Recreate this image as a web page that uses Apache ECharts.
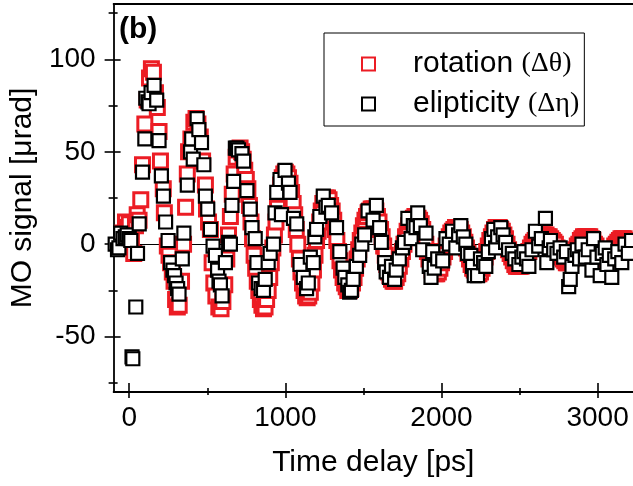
<!DOCTYPE html>
<html>
<head>
<meta charset="utf-8">
<script src="https://cdn.jsdelivr.net/npm/echarts@6.0.0/dist/echarts.min.js"></script>
<style>
  html, body { margin: 0; padding: 0; background: #fff; }
  #chart { width: 633px; height: 486px; }
</style>
</head>
<body>
<div id="chart"></div>
<script>
// tick positions
var xMajor = [0, 1000, 2000, 3000]
var xMinor = [500, 1500, 2500]
var yMajor = [-50, 0, 50, 100]
var yMinor = [-75, -25, 25, 75, 125]

// rotation (delta theta) [time ps, signal urad]
var rotation = [
  [-40,6],[-24,12],[-10,9],[0,11],[14,4],[29,-5],[40,10],[51,16],[63,13],[74,24],
  [85,43],[100,65],[115,78],[130,90],[142,95],[155,93],[168,82],[180,74],[191,61],[200,45],
  [218,30],[225,17],[244,-1],[255,-6],[265,-10],[276,-15],[287,-20],[297,-30],[308,-34],[320,-33],
  [335,-20],[348,0],[361,20],[372,38],[380,50],[395,57],[414,66],[428,68],[440,65],[455,58],
  [470,45],[488,32],[495,19],[508,12],[520,8],[531,-10],[542,-21],[555,-28],[574,-34],[588,-35],
  [600,-31],[612,-22],[625,-8],[636,5],[648,15],[660,27],[672,38],[685,47],[698,51],[710,52],
  [720,50],[730,46],[740,40],[750,35],[760,30],[770,21],[780,12],[790,3],[800,-6],[810,-13],
  [820,-20],[830,-25],[840,-30],[850,-33],[860,-35],[870,-34],[880,-30],[890,-25],[900,-18],[910,-10],
  [920,-2],[930,5],[940,12],[950,20],[960,27],[970,32],[980,36],[990,38],[1000,39],[1010,38],
  [1020,36],[1030,33],[1040,28],[1050,22],[1060,16],[1070,8],[1080,0],[1090,-8],[1100,-15],[1110,-21],
  [1120,-25],[1130,-28],[1140,-29],[1150,-28],[1160,-26],[1170,-21],[1180,-14],[1190,-6],[1200,2],[1210,7],
  [1220,12],[1230,18],[1240,22],[1250,24],[1260,25],[1270,25],[1280,24],[1290,21],[1300,18],[1310,13],
  [1320,8],[1330,2],[1340,-4],[1350,-9],[1360,-14],[1370,-18],[1380,-21],[1390,-23],[1400,-25],[1410,-25],
  [1420,-24],[1430,-21],[1440,-18],[1450,-13],[1460,-8],[1470,-3],[1480,2],[1490,6],[1500,10],[1510,13],
  [1520,15],[1530,17],[1540,18],[1550,19],[1560,19],[1570,19],[1580,18],[1590,15],[1600,12],[1610,8],
  [1620,4],[1630,-1],[1640,-6],[1650,-11],[1660,-15],[1670,-17],[1680,-19],[1690,-20],[1700,-20],[1710,-18],
  [1720,-16],[1730,-12],[1740,-8],[1750,-4],[1760,0],[1770,4],[1780,7],[1790,10],[1800,12],[1810,13],
  [1820,14],[1830,15],[1840,14],[1850,14],[1860,13],[1870,11],[1880,8],[1890,4],[1900,0],[1910,-4],
  [1920,-8],[1930,-11],[1940,-14],[1950,-15],[1960,-16],[1970,-16],[1980,-15],[1990,-13],[2000,-10],[2010,-7],
  [2020,-4],[2030,-1],[2040,2],[2050,4],[2060,6],[2070,7],[2080,8],[2090,9],[2100,9],[2110,9],
  [2120,8],[2130,6],[2140,4],[2150,1],[2160,-2],[2170,-5],[2180,-8],[2190,-11],[2200,-13],[2210,-14],
  [2220,-15],[2230,-16],[2240,-16],[2250,-15],[2260,-13],[2270,-10],[2280,-7],[2290,-4],[2300,-1],[2310,2],
  [2320,4],[2330,6],[2340,8],[2350,9],[2360,9],[2370,9],[2380,8],[2390,7],[2400,5],[2410,3],
  [2420,0],[2430,-3],[2440,-5],[2450,-7],[2460,-9],[2470,-11],[2480,-12],[2490,-12],[2500,-12],[2510,-12],
  [2520,-11],[2530,-10],[2540,-8],[2550,-6],[2560,-4],[2570,-2],[2580,0],[2590,1],[2600,2],[2610,3],
  [2620,4],[2630,5],[2640,5],[2650,5],[2660,5],[2670,5],[2680,4],[2690,4],[2700,3],[2710,2],
  [2720,1],[2730,0],[2740,-2],[2750,-4],[2760,-6],[2770,-7],[2780,-8],[2790,-9],[2800,-10],[2810,-10],
  [2820,-9],[2830,-8],[2840,-7],[2850,-5],[2860,-3],[2870,-1],[2880,0],[2890,2],[2900,3],[2910,4],
  [2920,4],[2930,4],[2940,4],[2950,4],[2960,3],[2970,2],[2980,0],[2990,-1],[3000,-3],[3010,-5],
  [3020,-6],[3030,-7],[3040,-8],[3050,-8],[3060,-8],[3070,-7],[3080,-6],[3090,-5],[3100,-3],[3110,-1],
  [3120,0],[3130,1],[3140,2],[3150,3],[3160,3],[3170,3],[3180,2],[3190,1],[3200,0],[3210,-1],
  [3220,-2]
]

// elipticity (delta eta) [time ps, signal urad]
var elipticity = [
  [-90,0],[-75,-3],[-66,-2],[-55,6],[-40,3],[-25,4],[-13,5],[0,3],[10,2],[18,-61],
  [23,-62],[42,-34],[53,-5],[64,11],[85,39],[100,57],[106,79],[120,77],[127,76],[140,82],
  [159,86],[176,78],[191,56],[206,37],[219,26],[233,12],[249,2],[265,-10],[280,-14],[290,-17],
  [300,-21],[310,-24],[319,-27],[340,-8],[350,6],[372,32],[393,50],[400,57],[410,46],[435,68],
  [446,62],[463,55],[478,43],[488,26],[503,19],[520,8],[537,-1],[552,-6],[566,-14],[575,-20],
  [584,-22],[595,-28],[616,-10],[637,1],[648,0],[658,21],[669,34],[680,52],[690,52],[700,51],
  [722,49],[733,45],[754,29],[775,19],[786,9],[807,3],[818,-10],[829,-21],[845,-24],[860,-25],
  [871,-19],[890,-10],[903,-5],[924,0],[934,17],[945,28],[966,35],[975,16],[998,40],[1020,33],
  [1030,28],[1052,14],[1073,11],[1094,-11],[1115,-18],[1136,-24],[1147,-21],[1160,-7],[1179,-10],[1189,4],
  [1200,8],[1221,15],[1243,26],[1260,20],[1275,21],[1296,17],[1328,9],[1349,-4],[1370,-13],[1381,-18],
  [1400,-22],[1412,-26],[1423,-25],[1434,-19],[1455,-12],[1476,-6],[1490,0],[1508,5],[1530,18],[1562,13],
  [1583,21],[1604,9],[1615,1],[1636,-10],[1646,-15],[1667,-18],[1680,-12],[1700,-19],[1710,-14],[1730,-8],
  [1750,-2],[1763,1],[1785,14],[1806,3],[1820,10],[1837,9],[1848,17],[1865,10],[1880,-3],[1901,6],
  [1922,-12],[1933,-18],[1944,-4],[1954,-13],[1976,-8],[2008,-9],[2029,3],[2050,0],[2071,7],[2092,-2],
  [2110,5],[2124,10],[2140,4],[2156,0],[2167,-5],[2188,-6],[2199,-12],[2210,-17],[2231,-17],[2250,-8],
  [2270,-10],[2284,-12],[2300,-4],[2320,3],[2336,8],[2347,-2],[2360,4],[2380,9],[2395,5],[2411,1],
  [2430,-3],[2454,-5],[2470,-8],[2496,-11],[2515,-7],[2528,-4],[2545,-8],[2560,-12],[2580,-3],[2602,7],
  [2623,-1],[2640,3],[2666,14],[2675,-10],[2690,-2],[2698,2],[2719,-3],[2740,-5],[2760,-2],[2783,-7],
  [2800,-4],[2815,-23],[2825,-19],[2836,-12],[2855,-6],[2870,-3],[2885,-8],[2900,0],[2922,-7],[2940,-3],
  [2964,-14],[2974,3],[2996,-7],[3017,-17],[3030,-5],[3049,-2],[3060,-11],[3075,-6],[3091,-18],[3110,-8],
  [3130,-4],[3155,-10],[3176,0],[3197,-5],[3218,2]
]

var X_MIN = -100, X_MAX = 3227
var Y_MIN = -80, Y_MAX = 130
var FONT = 'Liberation Sans, Arial, sans-serif'

function xAxisOf (ticks, len, inside, opts) {
  return Object.assign({
    type: 'value', min: X_MIN, max: X_MAX, position: 'bottom',
    axisLine: { show: false, onZero: false },
    axisTick: { show: true, customValues: ticks, length: len, inside: inside,
      lineStyle: { color: '#000', width: 1.6 } },
    axisLabel: { show: false },
    splitLine: { show: false },
  }, opts || {})
}
function yAxisOf (ticks, len, inside, opts) {
  return Object.assign({
    type: 'value', min: Y_MIN, max: Y_MAX, position: 'left',
    axisLine: { show: false, onZero: false },
    axisTick: { show: true, customValues: ticks, length: len, inside: inside,
      lineStyle: { color: '#000', width: 1.6 } },
    axisLabel: { show: false },
    splitLine: { show: false },
  }, opts || {})
}

var chart = echarts.init(document.getElementById('chart'))
var option = {
  animation: false,
  backgroundColor: '#fff',
  grid: { left: 111, right: 0, top: 4, bottom: 94 },
  legend: {
    left: 324, top: 33,
    orient: 'vertical',
    padding: [16, 5, 7, 37],
    itemGap: 10,
    itemWidth: 13, itemHeight: 13,
    borderColor: '#000', borderWidth: 1,
    textStyle: {
      color: '#000', fontFamily: FONT, fontSize: 30, lineHeight: 30,
      padding: [0, 0, 0, 33],
      rich: {
        a: { fontFamily: FONT, fontSize: 30, color: '#000' },
        b: { fontFamily: 'Liberation Serif, Times New Roman, serif', fontSize: 28, color: '#000' },
      },
    },
    formatter: function (name) {
      return name === 'rotation' ? '{a|rotation} {b|(Δθ)}' : '{a|elipticity} {b|(Δη)}'
    },
    data: ['rotation', 'elipticity'],
  },
  graphic: [{
    type: 'text', left: 119, top: 15,
    style: { text: '(b)', font: 'bold 30px ' + FONT, fill: '#000' },
  }],
  xAxis: [
    xAxisOf(xMajor, 6, false, {
      axisLine: { show: true, onZero: false, lineStyle: { color: '#000', width: 1.8 } },
      axisLabel: { show: true, customValues: xMajor, margin: 12, color: '#000',
        fontFamily: FONT, fontSize: 28, formatter: function (v) { return String(v) } },
      name: 'Time delay [ps]', nameLocation: 'middle', nameGap: 56,
      nameTextStyle: { color: '#000', fontFamily: FONT, fontSize: 30 },
    }),
    xAxisOf(xMajor, 9, true),
    xAxisOf(xMinor, 3, false),
    xAxisOf(xMinor, 4, true),
    xAxisOf([], 0, false, {
      position: 'top',
      axisLine: { show: true, onZero: false, lineStyle: { color: '#000', width: 1.8 } },
      axisTick: { show: false },
    }),
  ],
  yAxis: [
    yAxisOf(yMajor, 9, false, {
      axisLine: { show: true, onZero: false, lineStyle: { color: '#000', width: 1.8 } },
      axisLabel: { show: true, customValues: yMajor, margin: 18, color: '#000',
        fontFamily: FONT, fontSize: 28, formatter: function (v) { return String(v) } },
      name: 'MO signal [μrad]', nameLocation: 'middle', nameGap: 70,
      nameTextStyle: { color: '#000', fontFamily: FONT, fontSize: 30 },
    }),
    yAxisOf(yMajor, 7, true),
    yAxisOf(yMinor, 5, false),
    yAxisOf(yMinor, 4, true),
  ],
  series: [
    {
      name: 'rotation', type: 'scatter', data: rotation,
      symbol: 'rect', symbolSize: 14,
      itemStyle: { color: '#fff', borderColor: '#ec1c24', borderWidth: 3, opacity: 1 },
      markLine: {
        silent: true, symbol: ['none', 'none'], z: 1,
        label: { show: false },
        lineStyle: { color: '#000', width: 1, type: 'solid' },
        data: [{ yAxis: 0 }],
      },
    },
    {
      name: 'elipticity', type: 'scatter', data: elipticity,
      symbol: 'rect', symbolSize: 13,
      itemStyle: { color: '#fff', borderColor: '#000', borderWidth: 2.2, opacity: 1 },
    },
  ],
}
chart.setOption(option)
</script>
</body>
</html>
